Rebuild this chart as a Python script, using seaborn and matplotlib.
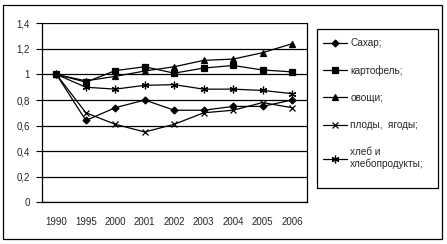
import matplotlib
matplotlib.use("Agg")
import matplotlib.pyplot as plt
from matplotlib.patches import Rectangle
import seaborn as sns
import pandas as pd

years = ["1990", "1995", "2000", "2001", "2002", "2003", "2004", "2005", "2006"]
sugar = [1.00, 0.64, 0.74, 0.80, 0.72, 0.72, 0.75, 0.75, 0.80]
potato = [1.00, 0.94, 1.03, 1.06, 1.01, 1.05, 1.07, 1.035, 1.02]
vegetables = [1.00, 0.95, 0.985, 1.027, 1.06, 1.11, 1.12, 1.17, 1.24]
fruits = [1.00, 0.70, 0.61, 0.55, 0.61, 0.70, 0.72, 0.78, 0.74]
bread = [1.00, 0.90, 0.885, 0.915, 0.92, 0.885, 0.885, 0.875, 0.85]
series_names = ["Сахар;", "картофель;", "овощи;", "плоды,  ягоды;", "хлеб и\nхлебопродукты;"]
yticks = [0, 0.2, 0.4, 0.6, 0.8, 1.0, 1.2, 1.4]
ytick_labels = ["0", "0,2", "0,4", "0,6", "0,8", "1", "1,2", "1,4"]

sns.set_style("white")
plt.rcParams["font.family"] = ["Liberation Sans", "DejaVu Sans"]

rows = []
for name, vals in zip(series_names, [sugar, potato, vegetables, fruits, bread]):
    for i, v in enumerate(vals):
        rows.append({"x": i, "value": v, "series": name})
df = pd.DataFrame(rows)

W, H = 447, 244
fig = plt.figure(figsize=(W / 100, H / 100), dpi=100)
# outer chart border
fig.patches.append(Rectangle((2.5 / W, 1 - 239 / H), (442 - 2.5) / W, (239 - 5) / H,
                             transform=fig.transFigure, fill=False, lw=0.9,
                             edgecolor="black"))
# legend box
fig.patches.append(Rectangle((317.3 / W, 1 - 188.3 / H), (438.3 - 317.3) / W,
                             (188.3 - 29.3) / H, transform=fig.transFigure,
                             fill=False, lw=0.9, edgecolor="black"))

left, right, top, bottom = 41.7, 306.7, 23.3, 202.3
ax = fig.add_axes([left / W, 1 - bottom / H, (right - left) / W, (bottom - top) / H])

markers = {series_names[0]: "D", series_names[1]: "s", series_names[2]: "^",
           series_names[3]: "x", series_names[4]: (6, 2, 0)}
sizes = {series_names[0]: 3.5, series_names[1]: 4.5, series_names[2]: 5,
         series_names[3]: 4.5, series_names[4]: 5.5}

for name in series_names:
    sub = df[df["series"] == name]
    sns.lineplot(data=sub, x="x", y="value", ax=ax, color="black", lw=0.9,
                 marker=markers[name], markersize=sizes[name],
                 markeredgecolor="black", markerfacecolor="black",
                 markeredgewidth=0.9, label=name, legend=False)

ax.set_xlim(-0.5, len(years) - 0.5)
ax.set_ylim(0, 1.4)
ax.set_yticks(yticks)
ax.set_yticklabels(ytick_labels)
ax.set_xticks(range(len(years)))
ax.set_xticklabels(years)
ax.set_xticks([i + 0.5 for i in range(-1, len(years))], minor=True)
ax.tick_params(axis="x", which="major", length=0, pad=10.5, labelsize=7)
ax.tick_params(axis="x", which="minor", length=4, width=0.8, direction="out",
               color="black")
ax.tick_params(axis="y", length=4, width=0.8, direction="out", pad=4.5,
               labelsize=7, color="black", left=True)
ax.grid(axis="y", color="black", lw=0.9)
ax.set_xlabel("")
ax.set_ylabel("")
for s in ["left", "bottom", "right"]:
    ax.spines[s].set_visible(True)
    ax.spines[s].set_color("black")
    ax.spines[s].set_linewidth(0.9)
ax.spines["top"].set_visible(False)

handles, labels = ax.get_legend_handles_labels()
leg = fig.legend(handles, labels, loc="upper left",
                 bbox_to_anchor=(322.7 / W, 1 - 38.0 / H), frameon=False,
                 fontsize=7.2, handlelength=2.4, handletextpad=0.35,
                 labelspacing=1.72, borderpad=0, borderaxespad=0)

fig.savefig("out.png", dpi=100)
